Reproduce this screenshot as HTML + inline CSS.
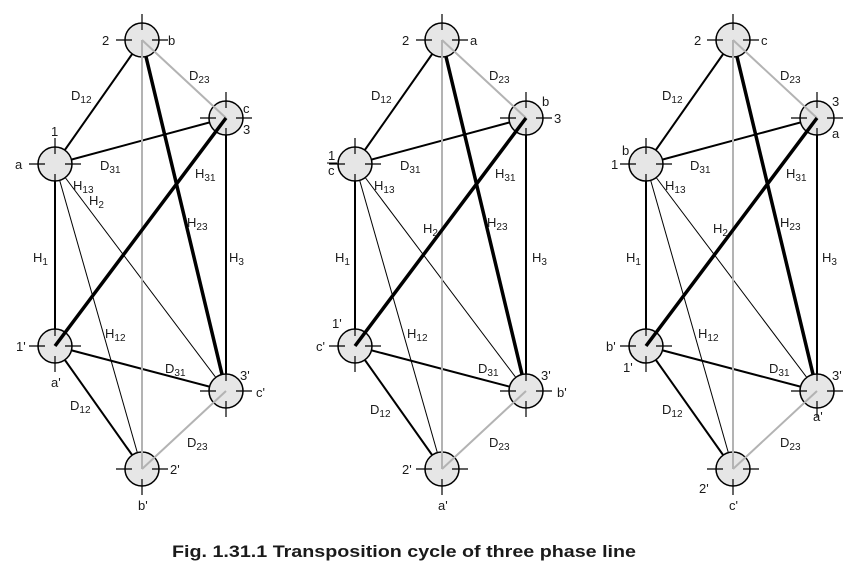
<!DOCTYPE html>
<html><head><meta charset="utf-8"><style>
html,body{margin:0;padding:0;background:#fff;width:868px;height:578px;overflow:hidden}
svg{display:block}
text{font-family:"Liberation Sans",Arial,sans-serif;font-size:13px;fill:#1a1a1a}
tspan{font-size:10px}
</style></head><body>
<svg width="868" height="578" viewBox="0 0 868 578" xmlns="http://www.w3.org/2000/svg">
<defs>
<g id="lines">
  <line x1="55" y1="164" x2="226" y2="391" stroke="#000" stroke-width="1"/>
  <line x1="55" y1="164" x2="142" y2="469" stroke="#000" stroke-width="1"/>
  <line x1="142" y1="40" x2="55" y2="164" stroke="#000" stroke-width="2"/>
  <line x1="55" y1="164" x2="226" y2="118" stroke="#000" stroke-width="2"/>
  <line x1="55" y1="164" x2="55" y2="346" stroke="#000" stroke-width="2"/>
  <line x1="226" y1="118" x2="226" y2="391" stroke="#000" stroke-width="2"/>
  <line x1="55" y1="346" x2="226" y2="391" stroke="#000" stroke-width="2"/>
  <line x1="55" y1="346" x2="142" y2="469" stroke="#000" stroke-width="2"/>
  <line x1="142" y1="40" x2="226" y2="391" stroke="#000" stroke-width="3.5"/>
</g>
<g id="nd">
  <circle r="17" fill="#e6e6e6" stroke="#000" stroke-width="1.5"/>
  <path d="M0,-26V-10M0,10V26M-26,0H-10M10,0H26" stroke="#000" stroke-width="1.2"/>
</g>
<g id="top">
  <line x1="142" y1="40" x2="226" y2="118" stroke="#b3b3b3" stroke-width="2"/>
  <line x1="142" y1="40" x2="142" y2="469" stroke="#b3b3b3" stroke-width="2"/>
  <line x1="226" y1="391" x2="142" y2="469" stroke="#b3b3b3" stroke-width="2"/>
  <line x1="226" y1="118" x2="55" y2="346" stroke="#000" stroke-width="3.5"/>
</g>
<g id="diag">
  <use href="#lines"/>
  <use href="#nd" x="142" y="40"/>
  <use href="#nd" x="226" y="118"/>
  <use href="#nd" x="55" y="164"/>
  <use href="#nd" x="55" y="346"/>
  <use href="#nd" x="226" y="391"/>
  <use href="#nd" x="142" y="469"/>
  <use href="#top"/>
</g>
</defs>

<use href="#diag"/>
<use href="#diag" x="300"/>
<use href="#diag" x="591"/>

<!-- Diagram 1 labels -->
<text x="102" y="45">2</text><text x="168" y="45">b</text>
<text x="189" y="80">D<tspan dy="3">23</tspan></text>
<text x="71" y="100">D<tspan dy="3">12</tspan></text>
<text x="243" y="113">c</text><text x="243" y="134">3</text>
<text x="51" y="136">1</text><text x="15" y="169">a</text>
<text x="100" y="170">D<tspan dy="3">31</tspan></text>
<text x="73" y="190">H<tspan dy="3">13</tspan></text>
<text x="89" y="205">H<tspan dy="3">2</tspan></text>
<text x="195" y="178">H<tspan dy="3">31</tspan></text>
<text x="187" y="227">H<tspan dy="3">23</tspan></text>
<text x="33" y="262">H<tspan dy="3">1</tspan></text>
<text x="229" y="262">H<tspan dy="3">3</tspan></text>
<text x="105" y="338">H<tspan dy="3">12</tspan></text>
<text x="16" y="351">1'</text><text x="51" y="387">a'</text>
<text x="165" y="373">D<tspan dy="3">31</tspan></text>
<text x="240" y="380">3'</text><text x="256" y="397">c'</text>
<text x="70" y="410">D<tspan dy="3">12</tspan></text>
<text x="187" y="447">D<tspan dy="3">23</tspan></text>
<text x="170" y="474">2'</text><text x="138" y="510">b'</text>

<!-- Diagram 2 labels -->
<text x="402" y="45">2</text><text x="470" y="45">a</text>
<text x="489" y="80">D<tspan dy="3">23</tspan></text>
<text x="371" y="100">D<tspan dy="3">12</tspan></text>
<text x="542" y="106">b</text><text x="554" y="123">3</text>
<text x="328" y="160">1</text><line x1="327" y1="163" x2="337" y2="163" stroke="#000" stroke-width="1"/><text x="328" y="175">c</text>
<text x="400" y="170">D<tspan dy="3">31</tspan></text>
<text x="374" y="190">H<tspan dy="3">13</tspan></text>
<text x="495" y="178">H<tspan dy="3">31</tspan></text>
<text x="423" y="233">H<tspan dy="3">2</tspan></text>
<text x="487" y="227">H<tspan dy="3">23</tspan></text>
<text x="335" y="262">H<tspan dy="3">1</tspan></text>
<text x="532" y="262">H<tspan dy="3">3</tspan></text>
<text x="407" y="338">H<tspan dy="3">12</tspan></text>
<text x="332" y="328">1'</text><text x="316" y="351">c'</text>
<text x="478" y="373">D<tspan dy="3">31</tspan></text>
<text x="541" y="380">3'</text><text x="557" y="397">b'</text>
<text x="370" y="414">D<tspan dy="3">12</tspan></text>
<text x="489" y="447">D<tspan dy="3">23</tspan></text>
<text x="402" y="474">2'</text><text x="438" y="510">a'</text>

<!-- Diagram 3 labels -->
<text x="694" y="45">2</text><text x="761" y="45">c</text>
<text x="780" y="80">D<tspan dy="3">23</tspan></text>
<text x="662" y="100">D<tspan dy="3">12</tspan></text>
<text x="832" y="106">3</text><text x="832" y="138">a</text>
<text x="622" y="155">b</text><text x="611" y="169">1</text>
<text x="690" y="170">D<tspan dy="3">31</tspan></text>
<text x="665" y="190">H<tspan dy="3">13</tspan></text>
<text x="786" y="178">H<tspan dy="3">31</tspan></text>
<text x="713" y="233">H<tspan dy="3">2</tspan></text>
<text x="780" y="227">H<tspan dy="3">23</tspan></text>
<text x="626" y="262">H<tspan dy="3">1</tspan></text>
<text x="822" y="262">H<tspan dy="3">3</tspan></text>
<text x="698" y="338">H<tspan dy="3">12</tspan></text>
<text x="606" y="351">b'</text><text x="623" y="372">1'</text>
<text x="769" y="373">D<tspan dy="3">31</tspan></text>
<text x="832" y="380">3'</text><text x="813" y="421">a'</text>
<text x="662" y="414">D<tspan dy="3">12</tspan></text>
<text x="780" y="447">D<tspan dy="3">23</tspan></text>
<text x="699" y="493">2'</text><text x="729" y="510">c'</text>

<text x="172" y="557" style="font-size:17px;font-weight:bold" textLength="464" lengthAdjust="spacingAndGlyphs">Fig. 1.31.1 Transposition cycle of three phase line</text>
</svg>
</body></html>
